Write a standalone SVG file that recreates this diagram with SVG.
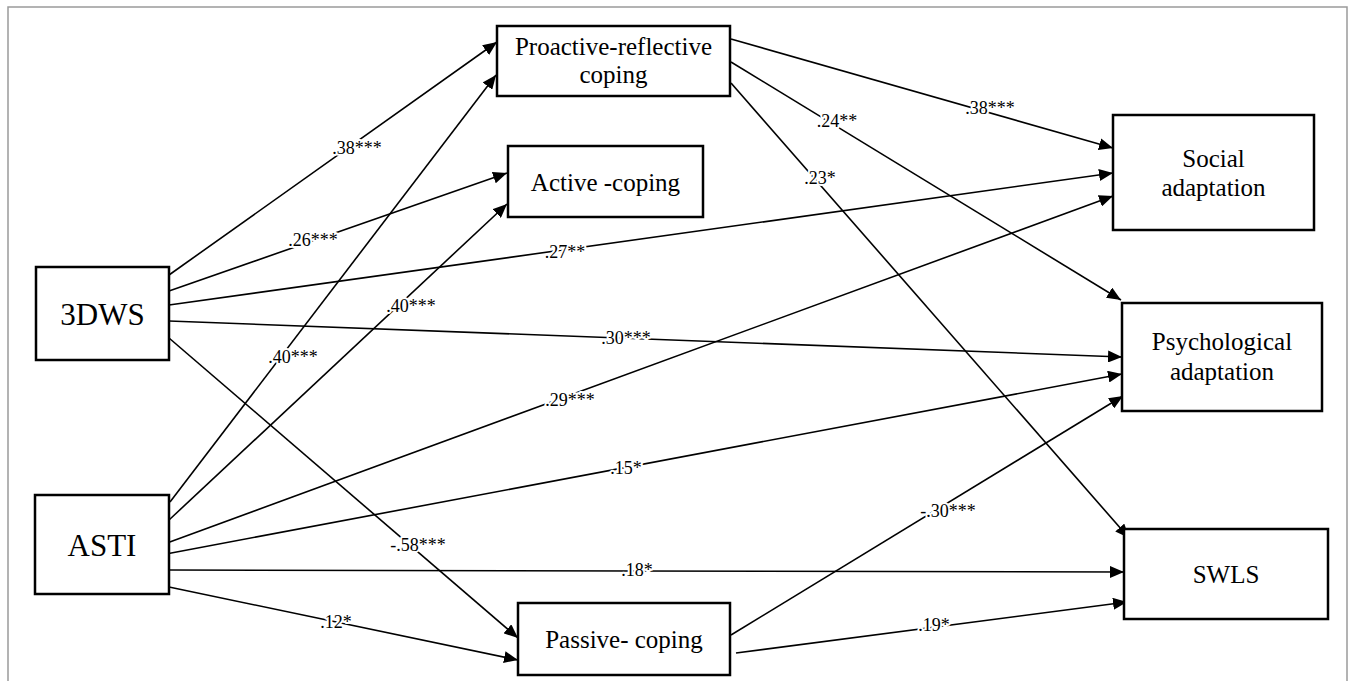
<svg xmlns="http://www.w3.org/2000/svg" width="1356" height="681" viewBox="0 0 1356 681">
<style>
.box{fill:#fff;stroke:#000;stroke-width:2.5}
.t{font-family:"Liberation Serif","Times New Roman",serif;font-size:25px;fill:#000;text-anchor:middle}
.big{font-size:31px}
.e{stroke:#000;stroke-width:1.6;fill:none;marker-end:url(#ah)}
.lb{font-family:"Liberation Serif","Times New Roman",serif;font-size:18px;fill:#000;text-anchor:middle;stroke:#fff;stroke-width:4;paint-order:stroke;stroke-linejoin:round}
</style>
<defs>
<marker id="ah" viewBox="0 0 14 12" refX="14" refY="6" markerWidth="14" markerHeight="12" markerUnits="userSpaceOnUse" orient="auto">
<path d="M0,0 L14,6 L0,12 z" fill="#000"/>
</marker>
</defs>
<rect x="0" y="0" width="1356" height="681" fill="#fff"/>
<rect x="8" y="7" width="1339" height="690" fill="none" stroke="#9a9a9a" stroke-width="1.5"/>
<g id="connectors">
<line class="e" x1="169" y1="275" x2="497" y2="42"/>
<line class="e" x1="169" y1="291" x2="507" y2="173"/>
<line class="e" x1="169" y1="305" x2="1113" y2="173"/>
<line class="e" x1="169" y1="321" x2="1122" y2="357"/>
<line class="e" x1="169" y1="338" x2="518" y2="638"/>
<line class="e" x1="170" y1="502" x2="496" y2="75"/>
<line class="e" x1="169" y1="520" x2="507" y2="204"/>
<line class="e" x1="167" y1="543" x2="1113" y2="196"/>
<line class="e" x1="166" y1="554" x2="1122" y2="374"/>
<line class="e" x1="170" y1="570" x2="1124" y2="572"/>
<line class="e" x1="169" y1="587" x2="518" y2="660"/>
<line class="e" x1="731" y1="39" x2="1113" y2="148"/>
<line class="e" x1="731" y1="62" x2="1121" y2="300"/>
<line class="e" x1="731" y1="83" x2="1129" y2="538"/>
<line class="e" x1="731" y1="635" x2="1123" y2="396"/>
<line class="e" x1="736" y1="653" x2="1127" y2="602"/>
</g>
<g id="labels">
<text class="lb" x="357" y="154">.38***</text>
<text class="lb" x="313" y="246">.26***</text>
<text class="lb" x="565" y="258">.27**</text>
<text class="lb" x="626" y="344">.30***</text>
<text class="lb" x="418" y="551">-.58***</text>
<text class="lb" x="293" y="363">.40***</text>
<text class="lb" x="411" y="312">.40***</text>
<text class="lb" x="570" y="406">.29***</text>
<text class="lb" x="626" y="474">.15*</text>
<text class="lb" x="637" y="576">.18*</text>
<text class="lb" x="336" y="628">.12*</text>
<text class="lb" x="990" y="114">.38***</text>
<text class="lb" x="837" y="127">.24**</text>
<text class="lb" x="820" y="184">.23*</text>
<text class="lb" x="948" y="517">-.30***</text>
<text class="lb" x="934" y="631">.19*</text>
</g>
<g id="n-proactive">
<rect class="box" x="497" y="26" width="233" height="70"/>
<text class="t" x="613.5" y="55">Proactive-reflective</text>
<text class="t" x="613.5" y="83">coping</text>
</g>
<g id="n-active">
<rect class="box" x="508" y="146" width="195" height="71"/>
<text class="t" x="605.5" y="191">Active -coping</text>
</g>
<g id="n-social">
<rect class="box" x="1113" y="115" width="201" height="115"/>
<text class="t" x="1213.5" y="167">Social</text>
<text class="t" x="1213.5" y="196">adaptation</text>
</g>
<g id="n-psych">
<rect class="box" x="1122" y="303" width="200" height="108"/>
<text class="t" x="1222" y="350">Psychological</text>
<text class="t" x="1222" y="380">adaptation</text>
</g>
<g id="n-swls">
<rect class="box" x="1124" y="529" width="204" height="90"/>
<text class="t" x="1226" y="583">SWLS</text>
</g>
<g id="n-3dws">
<rect class="box" x="36" y="267" width="133" height="93"/>
<text class="t big" x="102.5" y="325">3DWS</text>
</g>
<g id="n-asti">
<rect class="box" x="35" y="495" width="134" height="99"/>
<text class="t big" x="102" y="556">ASTI</text>
</g>
<g id="n-passive">
<rect class="box" x="518" y="603" width="212" height="72"/>
<text class="t" x="624" y="648">Passive- coping</text>
</g>
</svg>
